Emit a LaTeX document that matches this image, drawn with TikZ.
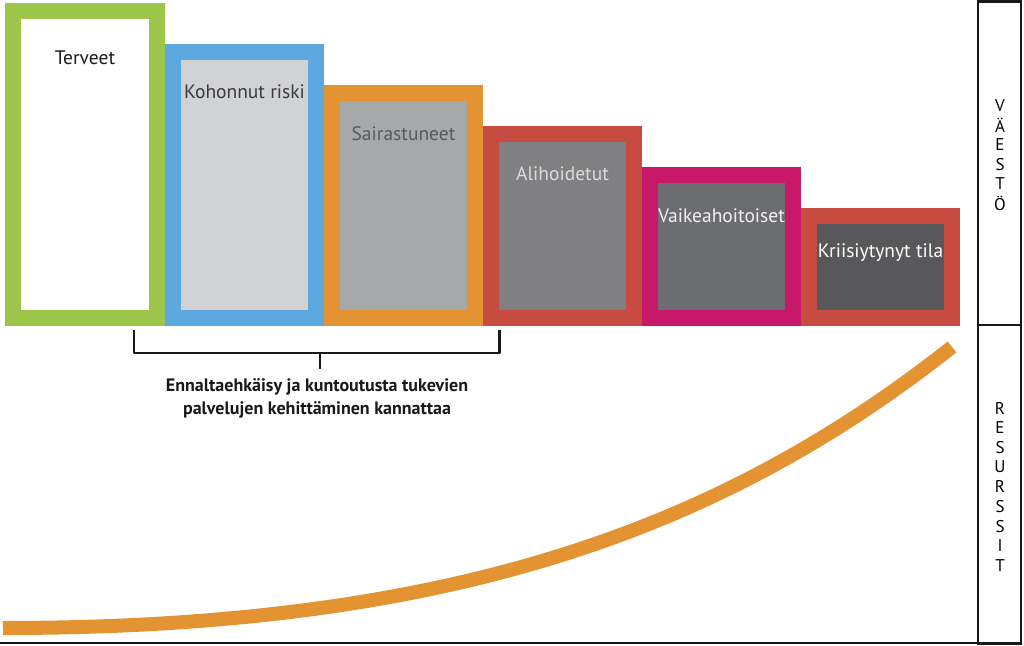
\documentclass[tikz,border=0pt]{standalone}
\usepackage{fontspec}
\setmainfont{PT Sans}
\definecolor{cgreen}{HTML}{9DC54A}
\definecolor{cblue}{HTML}{5EA8E0}
\definecolor{corange}{HTML}{E39331}
\definecolor{cred}{HTML}{C84B41}
\definecolor{cmag}{HTML}{C8186A}
\definecolor{fa}{HTML}{FFFFFF}
\definecolor{fb}{HTML}{D1D2D4}
\definecolor{fc}{HTML}{A7A8AA}
\definecolor{fd}{HTML}{808082}
\definecolor{fe}{HTML}{6C6D70}
\definecolor{ff}{HTML}{58585A}
\definecolor{ta}{HTML}{1A1A1A}
\definecolor{tb}{HTML}{3A3A3C}
\definecolor{tc}{HTML}{58595B}
\definecolor{td}{HTML}{DCDCDC}
\definecolor{te}{HTML}{F2F2F2}
\definecolor{tf}{HTML}{FFFFFF}
\tikzset{
  grp/.style={line width=16pt, line join=miter},
  lbl/.style={anchor=base, inner sep=0pt, font=\fontsize{19.5}{22}\selectfont},
  side/.style={anchor=center, inner sep=0pt, font=\fontsize{17}{19}\selectfont},
  frame/.style={line width=2.5pt, black!90},
  brk/.style={line width=2.8pt, black!90},
  note/.style={anchor=base, inner sep=0pt, font=\fontsize{18}{23}\selectfont\bfseries, text=black!90},
  curveline/.style={line width=14pt, corange, line cap=butt},
}
\begin{document}
\begin{tikzpicture}[x=1pt,y=-1pt]
\useasboundingbox (0,0) rectangle (1024,645);
% groups
\draw[grp, draw=cgreen, fill=fa] (13,11) rectangle (157,318);
\draw[grp, draw=cblue, fill=fb] (173,52) rectangle (316,318);
\draw[grp, draw=corange, fill=fc] (332,93) rectangle (475,318);
\draw[grp, draw=cred, fill=fd] (491,134) rectangle (634,318);
\draw[grp, draw=cmag, fill=fe] (650,175) rectangle (793,318);
\draw[grp, draw=cred, fill=ff] (809,216) rectangle (952,318);
% labels
\node[lbl, text=ta] (terveet) at (85,64) {Terveet};
\node[lbl, text=tb] (kohonnut) at (244.5,98) {Kohonnut riski};
\node[lbl, text=tc] (sairas) at (403.5,140) {Sairastuneet};
\node[lbl, text=td] (aliho) at (562.5,180) {Alihoidetut};
\node[lbl, text=te] (vaikea) at (721.5,222) {Vaikeahoitoiset};
\node[lbl, text=tf] (kriisi) at (880.5,257) {Kriisiytynyt tila};
% bracket
\coordinate (bl) at (134,330);
\coordinate (br) at (499.5,330);
\coordinate (bm) at (320,353);
\coordinate (bt) at (320,369);
\draw[brk, line join=round] (bl) -- (134,353) -- (499.5,353) -- (br);
\draw[brk] (bm) -- (bt);
\node[note] (text1) at (317,391) {Ennaltaehkäisy ja kuntoutusta tukevien};
\node[note] (text2) at (317,414) {palvelujen kehittäminen kannattaa};
% curve
\coordinate (c0) at (3,628);
\coordinate (c3) at (952,347);
\draw[curveline] (c0) .. controls (450,628) and (720,530) .. (c3);
% bottom line
\coordinate (bot0) at (0,643);
\coordinate (bot1) at (978,643);
\draw[frame] (bot0) -- (bot1);
% side panel
\draw[frame] (978,1.5) rectangle (1021,643.5);
\draw[frame] (978,325) -- (1021,325);
\foreach \ch [count=\i from 0] in {V,Ä,E,S,T,Ö} {
  \node[side] (v\i) at (1000,106+19.5*\i) {\ch};
}
\foreach \ch [count=\i from 0] in {R,E,S,U,R,S,S,I,T} {
  \node[side] (r\i) at (1000,408+19.7*\i) {\ch};
}
\end{tikzpicture}
\end{document}
